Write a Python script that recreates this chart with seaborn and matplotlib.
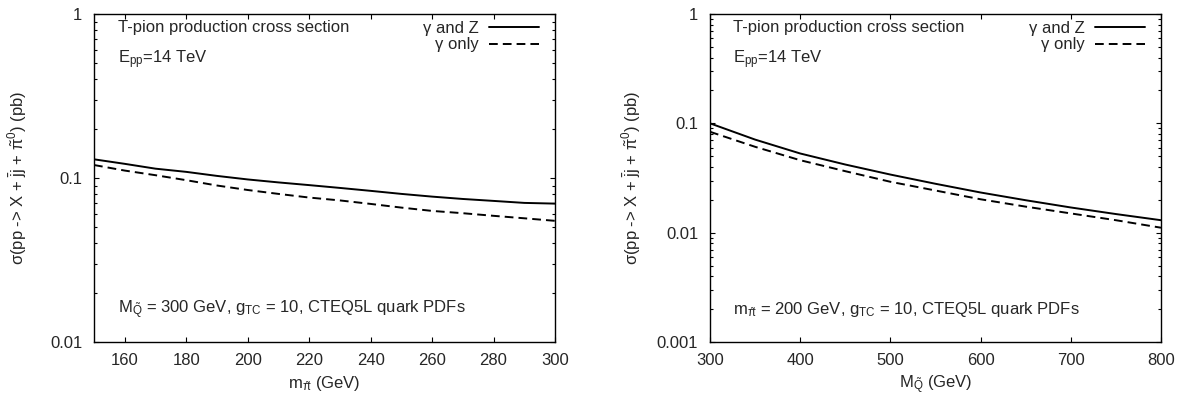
import numpy as np
import pandas as pd
import matplotlib
matplotlib.use("Agg")
import matplotlib.pyplot as plt
import matplotlib.ticker as mticker
import seaborn as sns

# left panel: cross section vs T-pion mass (M_Q = 300 GeV)
m_pi = [150, 160, 170, 180, 190, 200, 210, 220, 230, 240, 250, 260, 270, 280, 290, 300]
left_gz = [0.130, 0.122, 0.114, 0.109, 0.103, 0.098, 0.094, 0.0905, 0.087, 0.0835,
           0.080, 0.077, 0.0745, 0.0725, 0.0705, 0.0698]
left_g = [0.120, 0.111, 0.104, 0.097, 0.090, 0.0845, 0.080, 0.076, 0.073, 0.0695,
          0.066, 0.063, 0.061, 0.0588, 0.0568, 0.0548]

# right panel: cross section vs heavy quark mass (m_pi = 200 GeV)
m_q = [300, 350, 400, 450, 500, 550, 600, 650, 700, 750, 800]
right_gz = [0.100, 0.071, 0.053, 0.042, 0.034, 0.028, 0.0233, 0.0198, 0.0170, 0.0148, 0.0130]
right_g = [0.0837, 0.061, 0.046, 0.0365, 0.0292, 0.0243, 0.0202, 0.0173, 0.0150, 0.0130, 0.0111]

left_xticks = [160, 180, 200, 220, 240, 260, 280, 300]
right_xticks = [300, 400, 500, 600, 700, 800]
left_yticks = [0.01, 0.1, 1]
right_yticks = [0.001, 0.01, 0.1, 1]

sns.set_style("ticks")
plt.rcParams["font.family"] = ["Liberation Sans", "DejaVu Sans"]
plt.rcParams["mathtext.fontset"] = "custom"
plt.rcParams["mathtext.rm"] = "Liberation Sans"
plt.rcParams["mathtext.it"] = "Liberation Sans"
plt.rcParams["mathtext.bf"] = "Liberation Sans"

FS = 12
ylab = r"$\sigma$(pp -> X + $\bar{\rm j}$j + $\tilde{\pi}^0$) (pb)"

fig = plt.figure(figsize=(11.82, 3.96), dpi=100)
ax1 = fig.add_axes([94 / 1182, 54 / 396, 461 / 1182, 328 / 396])
ax2 = fig.add_axes([710 / 1182, 54 / 396, 451 / 1182, 328 / 396])


def long_df(x, a, b):
    return pd.DataFrame({
        "x": list(x) + list(x),
        "y": list(a) + list(b),
        "series": ["γ and Z"] * len(x) + ["γ only"] * len(x),
    })


panels = [
    (ax1, long_df(m_pi, left_gz, left_g), (150, 300), (0.01, 1), left_xticks, left_yticks,
     r"m$_{\tilde{\pi}}$ (GeV)",
     r"M$_{\tilde{\rm Q}}$ = 300 GeV, g$_{\rm TC}$ = 10, CTEQ5L quark PDFs", 15),
    (ax2, long_df(m_q, right_gz, right_g), (300, 800), (0.001, 1), right_xticks, right_yticks,
     r"M$_{\tilde{\rm Q}}$ (GeV)",
     r"m$_{\tilde{\pi}}$ = 200 GeV, g$_{\rm TC}$ = 10, CTEQ5L quark PDFs", 10),
]

for ax, df, xl, yl, xt, yt, xlab, note, ypad in panels:
    sns.lineplot(data=df, x="x", y="y", style="series", color="black",
                 dashes={"γ and Z": "", "γ only": (4.5, 2.6)}, linewidth=1.4, ax=ax)
    ax.set_yscale("log")
    ax.set_xlim(*xl)
    ax.set_ylim(*yl)
    ax.set_xticks(xt)
    ax.set_xticklabels([str(v) for v in xt], fontsize=FS)
    ax.set_yticks(yt)
    ax.set_yticklabels([f"{v:g}" for v in yt], fontsize=FS)
    ax.yaxis.set_minor_locator(mticker.LogLocator(base=10, subs=np.arange(2, 10)))
    ax.yaxis.set_minor_formatter(mticker.NullFormatter())
    ax.tick_params(which="both", direction="in", top=True, right=True, color="black", width=0.8)
    ax.tick_params(which="major", length=3.5)
    ax.tick_params(which="minor", length=2)
    ax.tick_params(axis="x", which="major", pad=8)
    ax.tick_params(axis="y", which="major", pad=8.5)
    for s in ax.spines.values():
        s.set_linewidth(1.0)
        s.set_color("black")
    ax.set_xlabel(xlab, fontsize=FS, labelpad=4)
    ax.set_ylabel(ylab, fontsize=FS, labelpad=ypad)
    ax.text(0.052, 0.96, "T-pion production cross section", transform=ax.transAxes,
            fontsize=FS, va="center", ha="left")
    ax.text(0.052, 0.86, r"E$_{\rm pp}$=14 TeV", transform=ax.transAxes,
            fontsize=FS, va="center", ha="left")
    ax.text(0.052, 0.098, note, transform=ax.transAxes, fontsize=FS, va="center", ha="left")
    h, l = ax.get_legend_handles_labels()
    ax.legend(h, l, loc="upper right", bbox_to_anchor=(0.997, 1.025), frameon=False,
              markerfirst=False, handlelength=3.0, handletextpad=0.6, labelspacing=0.1,
              fontsize=FS)

fig.savefig("out.png", dpi=100)
